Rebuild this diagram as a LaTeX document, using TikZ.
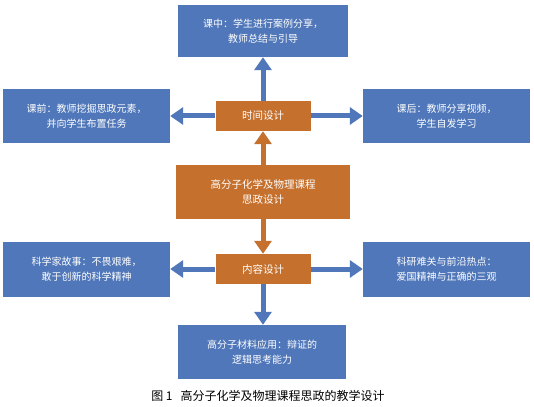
\documentclass[tikz,border=0pt]{standalone}
\usepackage{fontspec}
\setmainfont{Noto Sans CJK SC}
\usetikzlibrary{arrows.meta}
\definecolor{boxblue}{RGB}{80,119,185}
\definecolor{boxorange}{RGB}{197,112,45}
\tikzset{
  bluebox/.style={fill=boxblue,draw=none,text=white,align=center,font=\fontsize{10}{15}\selectfont,inner sep=0pt},
  orangebox/.style={fill=boxorange,draw=none,text=white,align=center,font=\fontsize{10.5}{15}\selectfont,inner sep=0pt},
  barrow/.style={draw=boxblue,line width=5pt,-{Triangle[width=17pt,length=13pt]}},
  oarrow/.style={draw=boxorange,line width=5pt,-{Triangle[width=17pt,length=13pt]}},
}
\begin{document}
\begin{tikzpicture}[x=1pt,y=-1pt]
\useasboundingbox (0,0) rectangle (534,406);
\node[bluebox,minimum width=170pt,minimum height=52pt] (top) at (263,31) {课中：学生进行案例分享，\\教师总结与引导};
\node[bluebox,minimum width=167pt,minimum height=54pt] (left) at (86.5,116) {课前：教师挖掘思政元素，\\并向学生布置任务};
\node[bluebox,minimum width=167pt,minimum height=54pt] (right) at (446.5,116) {课后：教师分享视频，\\学生自发学习};
\node[orangebox,minimum width=95pt,minimum height=30pt] (time) at (263,116) {时间设计};
\node[orangebox,minimum width=174pt,minimum height=54pt] (center) at (263,192) {高分子化学及物理课程\\思政设计};
\node[orangebox,minimum width=95pt,minimum height=30pt] (content) at (263,269) {内容设计};
\node[bluebox,minimum width=167pt,minimum height=55pt] (bl) at (86.5,269.5) {科学家故事：不畏艰难，\\敢于创新的科学精神};
\node[bluebox,minimum width=167pt,minimum height=55pt] (br) at (446.5,269.5) {科研难关与前沿热点：\\爱国精神与正确的三观};
\node[bluebox,minimum width=168pt,minimum height=54pt] (bottom) at (262,352) {高分子材料应用：辩证的\\逻辑思考能力};
\node[font=\fontsize{12}{14}\selectfont,text=black,inner sep=0pt] (caption) at (268,396) {图 1\ \ \ 高分子化学及物理课程思政的教学设计};
\draw[barrow] (time.north) -- (top.south);
\draw[barrow] (time.west) -- (left.east);
\draw[barrow] (time.east) -- (right.west);
\draw[oarrow] (center.north) -- (time.south);
\draw[oarrow] (center.south) -- (content.north);
\draw[barrow] (content.west) -- (bl.east |- content.west);
\draw[barrow] (content.east) -- (br.west |- content.east);
\draw[barrow] (content.south) -- (content.south |- bottom.north);
\end{tikzpicture}
\end{document}
